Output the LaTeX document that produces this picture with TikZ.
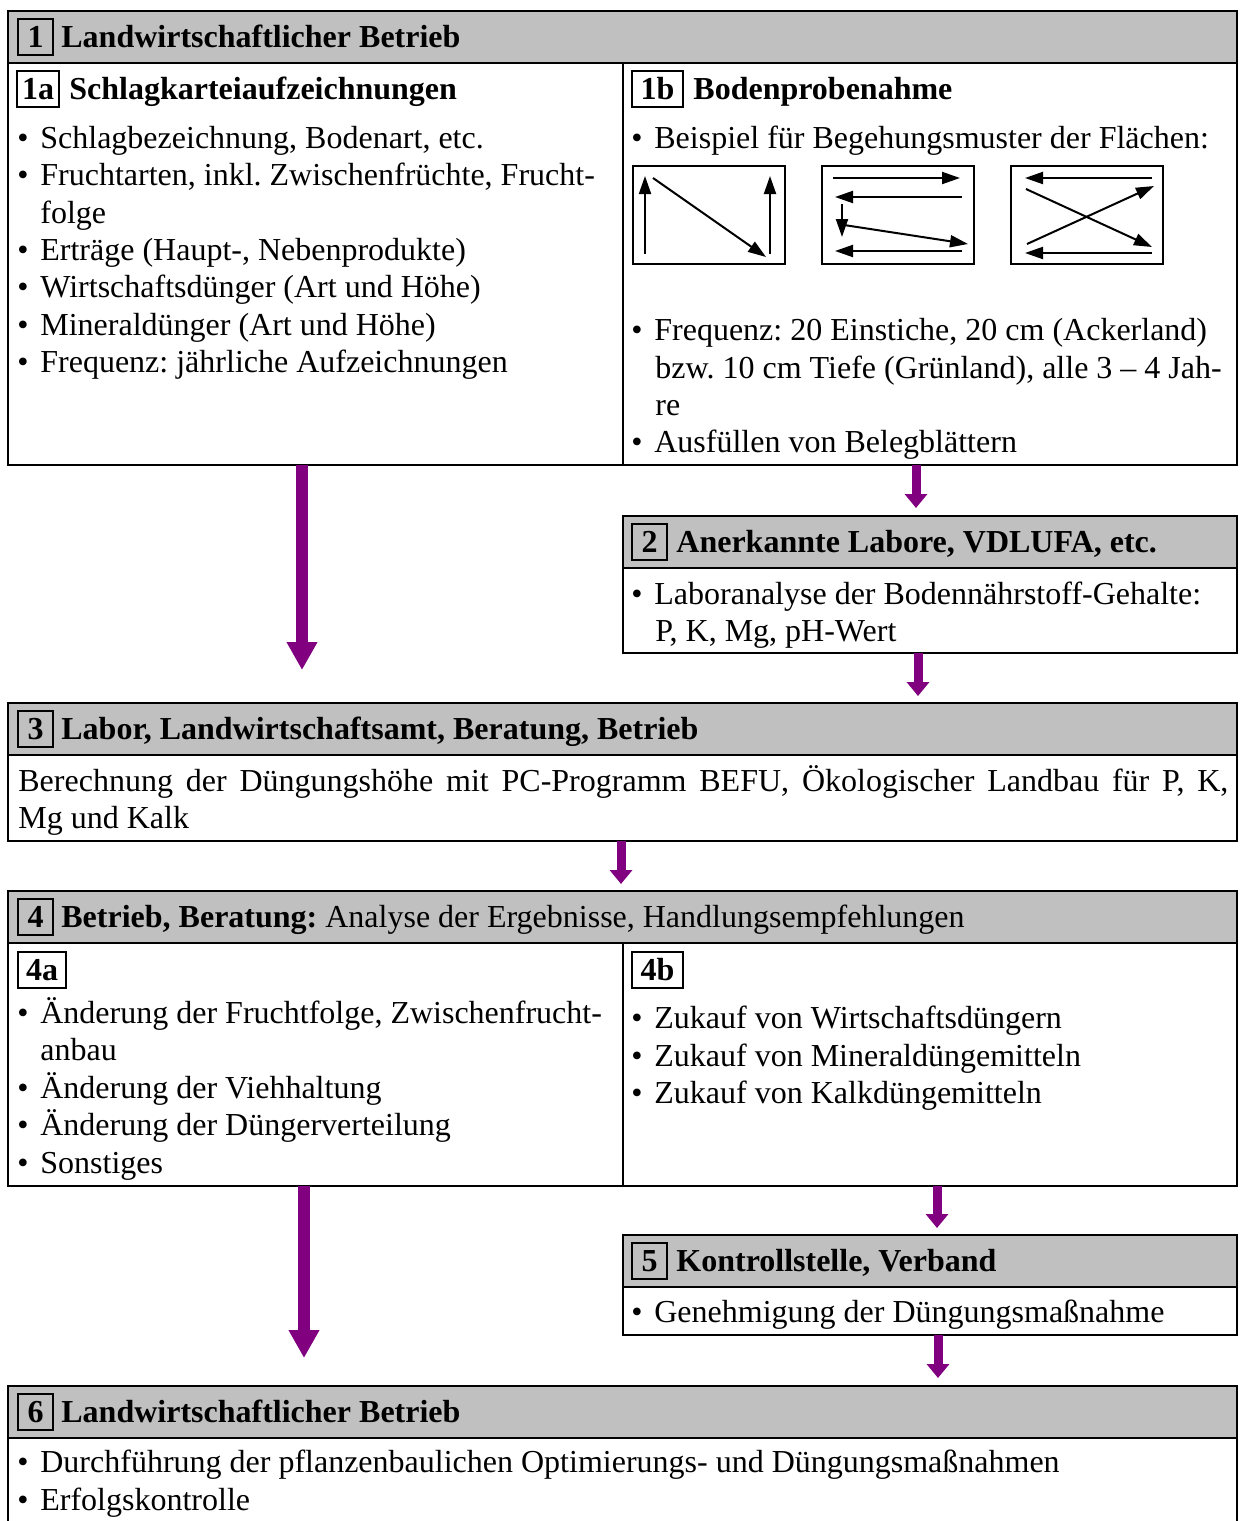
\documentclass[tikz,border=0pt]{standalone}
\usepackage{fontspec}
\setmainfont{Liberation Serif}
\usetikzlibrary{arrows.meta}
\frenchspacing
\definecolor{hdgray}{HTML}{C0C0C0}
\definecolor{arrowpurple}{HTML}{800080}
\newcommand\myfs{\fontsize{16pt}{18.75pt}\selectfont\frenchspacing}
\newcommand\bul{\makebox[11.5pt][l]{•}}
\tikzset{
  txt/.style={inner sep=0pt, anchor=base west, font=\myfs},
  hd/.style={txt, font=\myfs\bfseries},
  numbox/.style={draw, line width=0.8pt, inner sep=0pt, outer sep=0pt, font=\myfs\bfseries, minimum height=18pt, anchor=center},
  box/.style={draw, line width=1.1pt, inner sep=0pt, outer sep=0pt, anchor=north west},
  hdr/.style={fill=hdgray, draw=none},
  sep/.style={line width=1.1pt},
  bigarrow/.style={arrowpurple, line width=6pt, -{Triangle[length=14pt,width=14.5pt]}},
  smallarrow/.style={arrowpurple, line width=4.5pt, -{Triangle[length=7pt,width=11pt]}},
  iconbox/.style={draw, line width=1.2pt, inner sep=0pt, outer sep=0pt, anchor=north west, minimum width=76pt, minimum height=49pt},
  iconarr/.style={line width=1pt, -{Triangle[length=9pt,width=6pt]}},
}
\begin{document}
\begin{tikzpicture}[x=0.5pt,y=-0.5pt]
\useasboundingbox (0,0) rectangle (1239,1521);
\clip (0,0) rectangle (1239,1521);

% ---------- header fills ----------
\fill[hdgray] (8,11) rectangle (1237,63);
\fill[hdgray] (623,516) rectangle (1237,568);
\fill[hdgray] (8,703) rectangle (1237,755);
\fill[hdgray] (8,891) rectangle (1237,943);
\fill[hdgray] (623,1235) rectangle (1237,1287);
\fill[hdgray] (8,1386) rectangle (1237,1438);

% ---------- boxes ----------
\node[box, minimum width=614.5pt, minimum height=227pt] (b1) at (8,11) {};
\draw[sep] (8,63) -- (1237,63);
\draw[sep] (623,63) -- (623,465);

\node[box, minimum width=307pt, minimum height=68.5pt] (b2) at (623,516) {};
\draw[sep] (623,568) -- (1237,568);

\node[box, minimum width=614.5pt, minimum height=69pt] (b3) at (8,703) {};
\draw[sep] (8,755) -- (1237,755);

\node[box, minimum width=614.5pt, minimum height=147.5pt] (b4) at (8,891) {};
\draw[sep] (8,943) -- (1237,943);
\draw[sep] (623,943) -- (623,1186);

\node[box, minimum width=307pt, minimum height=50pt] (b5) at (623,1235) {};
\draw[sep] (623,1287) -- (1237,1287);

\node[box, minimum width=614.5pt, minimum height=90pt] (b6) at (8,1386) {};
\draw[sep] (8,1438) -- (1237,1438);

% ---------- box 1 ----------
\node[numbox, minimum width=17.5pt] (n1) at (35.5,37) {1};
\node[hd] (t1) at (61,47.5) {Landwirtschaftlicher Betrieb};
\node[numbox, minimum width=21pt] (n1a) at (38,89) {1a};
\node[hd] (t1a) at (69,99.5) {Schlagkarteiaufzeichnungen};
\node[numbox, minimum width=25.5pt] (n1b) at (657.5,89) {1b};
\node[hd] (t1b) at (693,99.5) {Bodenprobenahme};

\node[txt] (l1) at (17,148) {\bul Schlagbezeichnung, Bodenart, etc.};
\node[txt] (l2) at (17,185) {\bul Fruchtarten, inkl. Zwischenfrüchte, Frucht-};
\node[txt] (l3) at (40,223) {folge};
\node[txt] (l4) at (17,260) {\bul Erträge (Haupt-, Nebenprodukte)};
\node[txt] (l5) at (17,297) {\bul Wirtschaftsdünger (Art und Höhe)};
\node[txt] (l6) at (17,335) {\bul Mineraldünger (Art und Höhe)};
\node[txt] (l7) at (17,372) {\bul Frequenz: jährliche Aufzeichnungen};

\node[txt] (r1) at (631,148) {\bul Beispiel für Begehungsmuster der Flächen:};
\node[txt] (r2) at (631,340) {\bul Frequenz: 20 Einstiche, 20 cm (Ackerland)};
\node[txt] (r3) at (655,378) {bzw. 10 cm Tiefe (Grünland), alle 3 – 4 Jah-};
\node[txt] (r4) at (655,415) {re};
\node[txt] (r5) at (631,452) {\bul Ausfüllen von Belegblättern};

% icons
\node[iconbox] (i1) at (633,166) {};
\node[iconbox] (i2) at (822,166) {};
\node[iconbox] (i3) at (1011,166) {};
\draw[iconarr] (645,254) -- (645,176);
\draw[iconarr] (653,178) -- (766,257);
\draw[iconarr] (770,254) -- (770,176);

\draw[iconarr] (833,178) -- (960,178);
\draw[iconarr] (962,197) -- (835,197);
\draw[iconarr] (842,204) -- (842,237);
\draw[iconarr] (844,225) -- (968,244);
\draw[iconarr] (962,251) -- (835,251);

\draw[iconarr] (1152,178) -- (1025,178);
\draw[iconarr] (1026,189) -- (1152,247);
\draw[iconarr] (1027,244) -- (1154,186);
\draw[iconarr] (1152,253) -- (1025,253);

% ---------- box 2 ----------
\node[numbox, minimum width=17.5pt] (n2) at (649.5,542) {2};
\node[hd] (t2) at (676,552.5) {Anerkannte Labore, VDLUFA, etc.};
\node[txt] (m1) at (631,604) {\bul Laboranalyse der Bodennährstoff-Gehalte:};
\node[txt] (m2) at (655,641) {P, K, Mg, pH-Wert};

% ---------- box 3 ----------
\node[numbox, minimum width=17.5pt] (n3) at (35.5,729) {3};
\node[hd] (t3) at (61,739.5) {Labor, Landwirtschaftsamt, Beratung, Betrieb};
\node[txt, text width=605pt, align=justify] (p3) at (18,791) {Berechnung der Düngungshöhe mit PC-Programm BEFU, Ökologischer Landbau für P, K,\linebreak Mg und Kalk};

% ---------- box 4 ----------
\node[numbox, minimum width=17.5pt] (n4) at (35.5,917) {4};
\node[txt] (t4) at (61,927.5) {\textbf{Betrieb, Beratung:} Analyse der Ergebnisse, Handlungsempfehlungen};
\node[numbox, minimum width=24pt] (n4a) at (42,970) {4a};
\node[numbox, minimum width=25.5pt] (n4b) at (657.5,970) {4b};
\node[txt] (a1) at (17,1023) {\bul Änderung der Fruchtfolge, Zwischenfrucht-};
\node[txt] (a2) at (40,1060) {anbau};
\node[txt] (a3) at (17,1098) {\bul Änderung der Viehhaltung};
\node[txt] (a4) at (17,1135) {\bul Änderung der Düngerverteilung};
\node[txt] (a5) at (17,1173) {\bul Sonstiges};
\node[txt] (c1) at (631,1028) {\bul Zukauf von Wirtschaftsdüngern};
\node[txt] (c2) at (631,1066) {\bul Zukauf von Mineraldüngemitteln};
\node[txt] (c3) at (631,1103) {\bul Zukauf von Kalkdüngemitteln};

% ---------- box 5 ----------
\node[numbox, minimum width=17.5pt] (n5) at (649.5,1261) {5};
\node[hd] (t5) at (676,1271.5) {Kontrollstelle, Verband};
\node[txt] (k1) at (631,1322) {\bul Genehmigung der Düngungsmaßnahme};

% ---------- box 6 ----------
\node[numbox, minimum width=17.5pt] (n6) at (35.5,1412) {6};
\node[hd] (t6) at (61,1422.5) {Landwirtschaftlicher Betrieb};
\node[txt] (e1) at (17,1472) {\bul Durchführung der pflanzenbaulichen Optimierungs- und Düngungsmaßnahmen};
\node[txt] (e2) at (17,1510) {\bul Erfolgskontrolle};

% ---------- arrows ----------
\coordinate (xa) at (302,0);
\coordinate (xb) at (916,0);
\coordinate (xc) at (918,0);
\coordinate (xd) at (621,0);
\coordinate (xe) at (304,0);
\coordinate (xf) at (937,0);
\coordinate (xg) at (938,0);
\draw[bigarrow, shorten >=16.5pt] (b1.south -| xa) -- (b3.north -| xa);
\draw[smallarrow, shorten >=4pt] (b1.south -| xb) -- (b2.north -| xb);
\draw[smallarrow, shorten >=3.5pt] (b2.south -| xc) -- (b3.north -| xc);
\draw[smallarrow, shorten >=3.5pt] (b3.south -| xd) -- (b4.north -| xd);
\draw[bigarrow, shorten >=14pt] (b4.south -| xe) -- (b6.north -| xe);
\draw[smallarrow, shorten >=3.5pt] (b4.south -| xf) -- (b5.north -| xf);
\draw[smallarrow, shorten >=4pt] (b5.south -| xg) -- (b6.north -| xg);
\end{tikzpicture}
\end{document}
